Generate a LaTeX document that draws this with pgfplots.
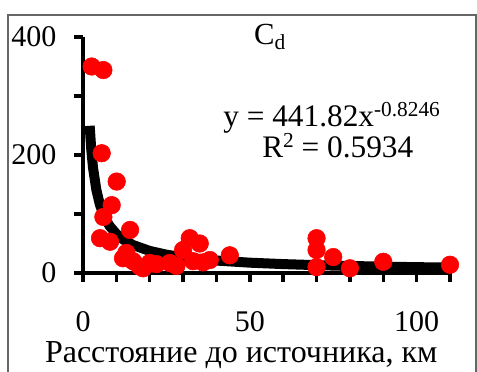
\documentclass[border=0pt]{standalone}
\usepackage{pgfplots}
\pgfplotsset{compat=1.18}
\usepackage{fontspec}
\setmainfont{Liberation Serif}
\newcommand\mysup[1]{\raisebox{7.5pt}{\fontsize{16}{18}\selectfont #1}}
\begin{document}
\begin{tikzpicture}
\useasboundingbox (0pt,0pt) rectangle (357.75pt,278.25pt);
\draw[black!60, line width=0.9pt] (6pt,-7.5pt) -- (6pt,267pt) -- (357pt,267pt) -- (357pt,-7.5pt);
\begin{axis}[
  at={(62.25pt,73.5pt)}, anchor=south west,
  scale only axis, width=275.25pt, height=177pt,
  xmin=0, xmax=110, ymin=0, ymax=400,
  axis x line*=bottom, axis y line*=left,
  axis line style={line width=3pt,-},
  tick style={black, line width=2.6pt},
  tick align=outside, major tick length=6.5pt,
  xtick={0,10,...,110}, xticklabels={0,,,,,50,,,,,100,},
  ytick={0,100,...,400}, yticklabels={0,,200,,400},
  /pgf/number format/assume math mode=true,
  tick label style={font=\fontsize{22.5}{26}\selectfont},
  xticklabel style={yshift=-19pt},
  yticklabel style={xshift=-10pt},
  xlabel={Расстояние до источника, км},
  xlabel style={font=\fontsize{24}{27}\selectfont, yshift=0pt, xshift=-19pt},
  clip=false,
]
\addplot[only marks, mark=*, mark size=6.6pt, color=red, mark options={fill=red, draw=red}] coordinates {
(2.6,350)(6.1,344)(5.6,203)(10.1,155)(8.6,115)(6.1,95)(5.1,59)(8.1,53)
(14.1,73)(13,34)(17,11)(20,17)(32,59)(30,39)(26,17)(38,22)(44,30)(35,50)
(70,59)(70,39)(75,27)(70,10)(80,8)(90,19)(110,14)
(12,25)(15,20)(18,8)(22,15)(28,12)(33,20)(36,18)
};
\addplot[black, line width=7.5pt] coordinates {
(2,249.5)(2.5,207.5)(3,178.6)(4,140.9)(5,117.2)(6,100.8)(7,88.8)(8,79.5)
(10,66.2)(12,56.9)(15,47.4)(20,37.4)(25,31.1)(30,26.7)(40,21.1)(50,17.5)
(60,15.1)(70,13.3)(80,11.9)(90,10.8)(100,9.9)(110,9.2)
};
\end{axis}
\node[anchor=center, font=\fontsize{23}{26}\selectfont] at (202.5pt,250.5pt) {C\textsubscript{d}};
\node[anchor=base west, inner sep=0pt, font=\fontsize{23.5}{26}\selectfont] at (167.25pt,183pt) {y = 441.82x\mysup{-0.8246}};
\node[anchor=base west, inner sep=0pt, font=\fontsize{23.5}{26}\selectfont] at (196.5pt,159.75pt) {R\mysup{2} = 0.5934};
\end{tikzpicture}
\end{document}
